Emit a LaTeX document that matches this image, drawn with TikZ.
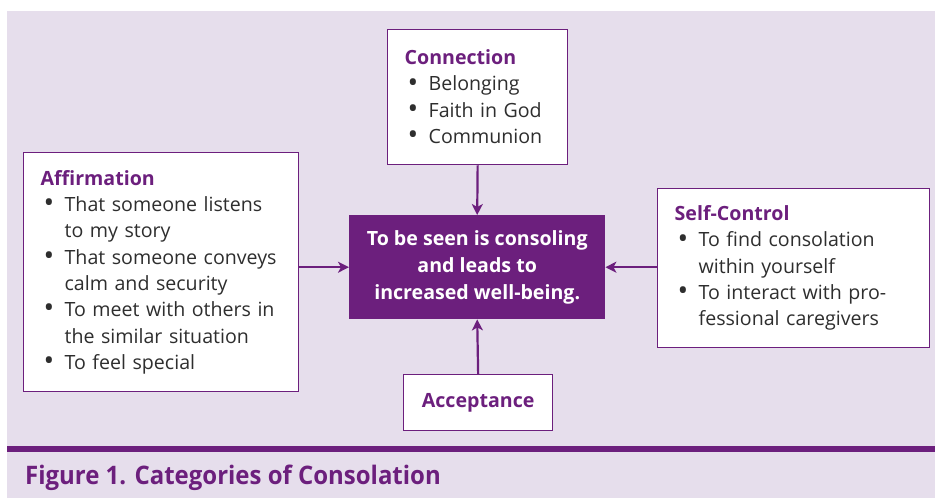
\documentclass[tikz,border=0pt]{standalone}
\usepackage{fontspec}
\usepackage{graphicx}
\setmainfont{Open Sans}
\newfontfamily\capfont[FakeStretch=0.94]{Open Sans}
\usetikzlibrary{arrows.meta}
\definecolor{lav}{HTML}{E6DEEC}
\definecolor{purp}{HTML}{6C1F7D}
\definecolor{txt}{HTML}{2E2E2E}
\newcommand\hd[1]{\noindent{\bfseries\color{purp}#1}\par}
\newcommand\itm[1]{\hangindent=24pt\hangafter=1\noindent\makebox[24pt][l]{\hspace{3pt}\raisebox{-1.2pt}{\scalebox{1.45}{\textbullet}}}#1\par}
\begin{document}
\begin{tikzpicture}[x=1pt,y=-1pt,
  box/.style={draw=purp, line width=1.3pt, fill=white, anchor=north west,
    inner xsep=17pt, inner ysep=0pt, align=left, text=txt,
    font=\fontsize{19.6}{26.3}\selectfont},
  mainbox/.style={fill=purp, anchor=north west, inner sep=0pt, align=center,
    text=white, font=\bfseries\fontsize{19.6}{27}\selectfont},
  arr/.style={draw=purp, line width=2.2pt, -{Stealth[length=11pt,width=11pt,inset=3pt]}}]
\useasboundingbox (0,0) rectangle (935,498);
\fill[lav] (7,11) rectangle (935,498);
\fill[purp] (7,446) rectangle (935,452);
\node[box, text width=241pt, minimum height=239pt] (aff) at (23,152) {%
  \hd{Affirmation}
  \itm{That someone listens\newline to my story}
  \itm{That someone conveys\newline calm and security}
  \itm{To meet with others in\newline the similar situation}
  \itm{To feel special}};
\node[box, text width=146pt, minimum height=135pt] (con) at (387,29) {%
  \hd{Connection}
  \itm{Belonging}
  \itm{Faith in God}
  \itm{Communion}};
\node[box, text width=238pt, minimum height=159pt] (self) at (657,188) {%
  \hd{Self-Control}
  \itm{To find consolation\newline within yourself}
  \itm{To interact with pro-\newline fessional caregivers}};
\node[box, minimum width=149pt, minimum height=56pt, align=center, inner xsep=0pt,
  font=\bfseries\fontsize{19.6}{26.3}\selectfont, text=purp] (acc) at (403,374) {Acceptance};
\node[mainbox, minimum width=256pt, minimum height=104pt] (main) at (349,215) {%
  To be seen is consoling\\and leads to\\increased well-being.};
\draw[arr] (con.south) -- (main.north);
\draw[arr] (acc.north) -- (main.south);
\draw[arr] (aff.east |- main.west) -- (main.west);
\draw[arr] (self.west |- main.east) -- (main.east);
\node[anchor=base west, inner sep=0pt, text=purp,
  font=\capfont\bfseries\fontsize{25.5}{30}\selectfont] (cap) at (25,484)
  {Figure 1. Categories of Consolation};
\end{tikzpicture}
\end{document}
